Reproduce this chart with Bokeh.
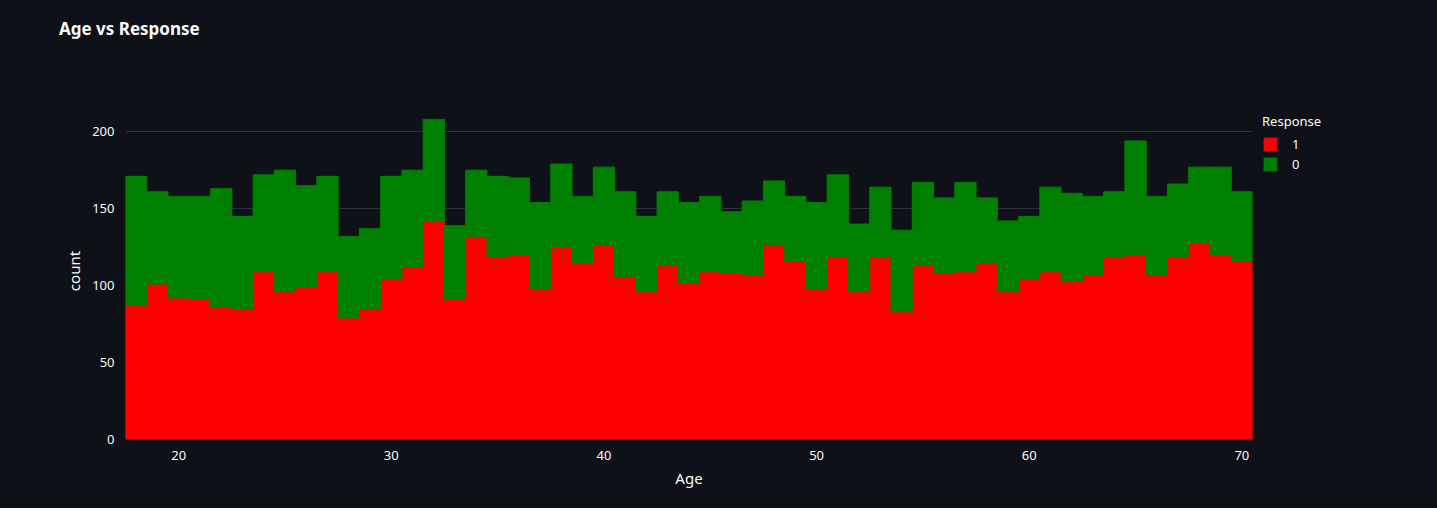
from bokeh.plotting import figure
from bokeh.models import Legend, LegendItem, ColumnDataSource, Div
from bokeh.layouts import column
from bokeh.embed import file_html
from bokeh.resources import INLINE

ages = list(range(18, 71))
resp1 = [87, 101, 92, 91, 86, 85, 109, 96, 99, 109, 79, 85, 104, 112, 142, 91, 132, 119, 120, 98,
         125, 115, 126, 106, 96, 113, 102, 109, 108, 107, 126, 116, 98, 119, 96, 119, 83, 113, 108,
         109, 115, 96, 104, 109, 103, 107, 119, 120, 107, 119, 128, 120, 116]
total = [171, 161, 158, 158, 163, 145, 172, 175, 165, 171, 132, 137, 171, 175, 208, 139, 175, 171,
         170, 154, 179, 158, 177, 161, 145, 161, 154, 158, 148, 155, 168, 158, 154, 172, 140, 164,
         136, 167, 157, 167, 157, 142, 145, 164, 160, 158, 161, 194, 158, 166, 177, 177, 161]
resp0 = [t - r for t, r in zip(total, resp1)]

src = ColumnDataSource(dict(age=ages, r1=resp1, r0=resp0))

bg = "#0e1117"
txt = "#fafafa"
font = "Noto Sans"

title = Div(text="Age vs Response", width=1421, height=47,
            styles={"background-color": bg, "color": txt, "font-family": font,
                    "font-size": "17px", "font-weight": "bold",
                    "padding-left": "54px", "padding-top": "12px", "box-sizing": "border-box"})

p = figure(frame_width=1127, frame_height=337, output_backend="svg", toolbar_location=None,
           x_range=(17.5, 70.5), y_range=(0, 219),
           background_fill_color=bg, border_fill_color=bg, outline_line_color=None,
           min_border_left=125, min_border_right=0, min_border_top=45, min_border_bottom=69)

rs = p.vbar_stack(["r1", "r0"], x="age", width=1.0, source=src,
                  color=["#ff0000", "#008000"])

leg = Legend(items=[LegendItem(label="1", renderers=[rs[0]]),
                    LegendItem(label="0", renderers=[rs[1]])],
             location="top_left", title="Response",
             background_fill_alpha=0, border_line_color=None,
             label_text_color=txt, title_text_color=txt,
             label_text_font=font, title_text_font=font,
             label_text_font_size="13px", title_text_font_size="13px",
             title_text_font_style="normal", glyph_width=16, glyph_height=16,
             spacing=2, label_standoff=14, margin=10, padding=8)
p.add_layout(leg, "right")

p.xgrid.grid_line_color = None
p.ygrid.grid_line_color = "#2c3440"
p.xaxis.ticker = [20, 30, 40, 50, 60, 70]
p.yaxis.ticker = [0, 50, 100, 150, 200]
p.xaxis.axis_label = "Age"
p.yaxis.axis_label = "count"
for ax in (p.xaxis, p.yaxis):
    ax.axis_line_color = None
    ax.major_tick_line_color = None
    ax.minor_tick_line_color = None
    ax.major_label_text_color = txt
    ax.major_label_text_font = font
    ax.major_label_text_font_size = "13px"
    ax.axis_label_text_color = txt
    ax.axis_label_text_font = font
    ax.axis_label_text_font_size = "15px"
    ax.axis_label_text_font_style = "normal"

layout = column(title, p, spacing=0, styles={"background-color": bg})
open("out.html", "w").write(file_html(layout, INLINE))
